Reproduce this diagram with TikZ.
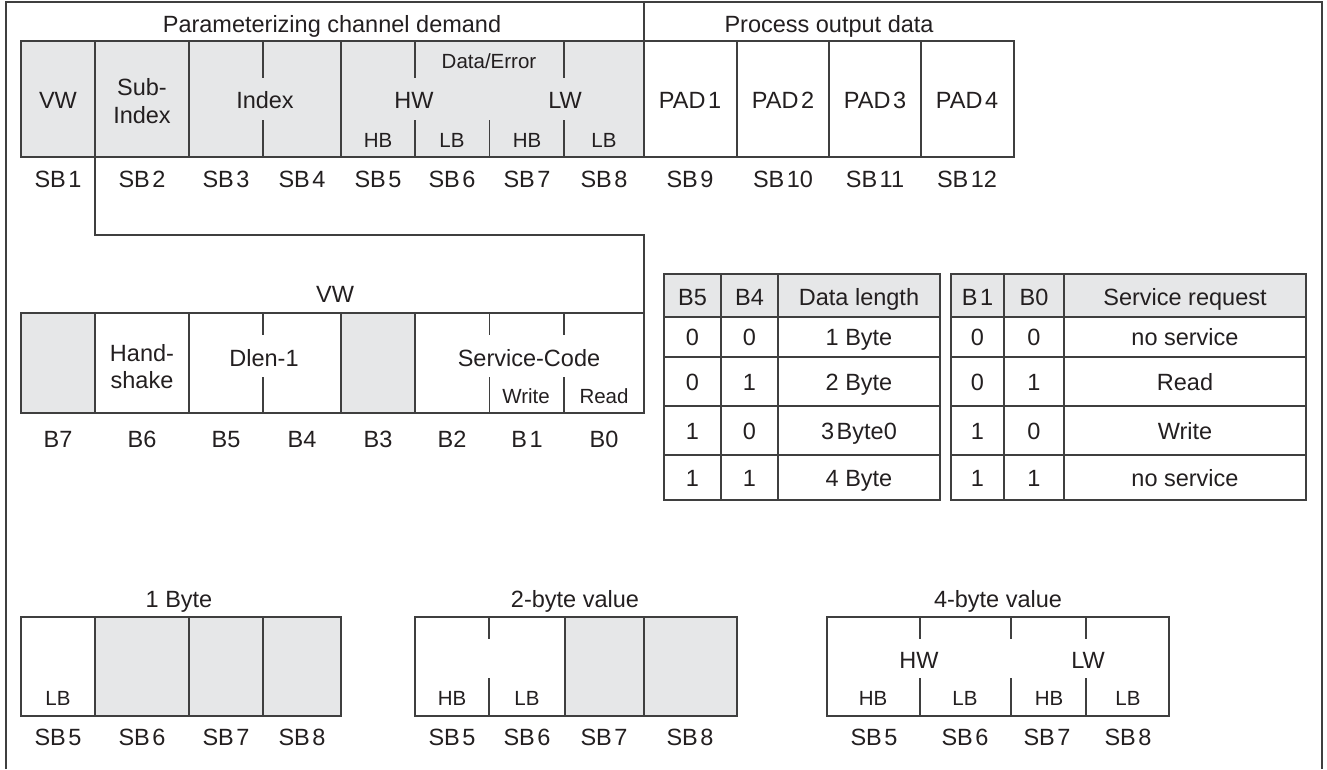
\documentclass[tikz,border=0pt]{standalone}
\usepackage{fontspec}
\setmainfont{Liberation Sans}
\definecolor{ln}{HTML}{3F3F3F}
\definecolor{gf}{HTML}{E6E7E8}
\definecolor{tx}{HTML}{231F20}
\newcommand{\ks}{\kern2.5pt}
\begin{document}
\begin{tikzpicture}[x=1pt,y=-1pt,
  ln/.style={draw=ln,line width=1.5pt},
  frame/.style={draw=ln,line width=1.2pt},
  grey/.style={fill=gf},
  big/.style={font=\fontsize{23.5}{28}\selectfont,text=tx,inner sep=0pt,anchor=base},
  small/.style={font=\fontsize{20.5}{24}\selectfont,text=tx,inner sep=0pt,anchor=base}]
\useasboundingbox (0,0) rectangle (1327,769);
% frame
\draw[frame] (6,769) -- (6,2) -- (1322,2) -- (1322,769);
\draw[frame] (644,2) -- (644,41);
\node[big] (tpar) at (332,32) {Parameterizing channel demand};
\node[big] (tpro) at (829,32) {Process output data};
% ---- top row
\fill[grey] (21,41) rectangle (644,157);
\draw[ln] (21,41) rectangle (644,157);
\foreach \x in {95,189,341} \draw[ln] (\x,41) -- (\x,157);
\foreach \x in {263,415,564} \draw[ln] (\x,41) -- (\x,78);
\foreach \x in {263,415,489.5,564} \draw[ln] (\x,120) -- (\x,157);
\draw[ln] (644,41) rectangle (1014,157);
\foreach \x in {737,829,921} \draw[ln] (\x,41) -- (\x,157);
\node[big] (vw) at (58,108) {VW};
\node[big] (sub1) at (142,95) {Sub-};
\node[big] (sub2) at (142,123) {Index};
\node[big] (idx) at (265,108) {Index};
\node[small] (de) at (489,68) {Data/Error};
\node[big] (hw) at (414,108) {HW};
\node[big] (lw) at (565,108) {LW};
\foreach \x/\t [count=\i] in {378/HB,452/LB,527/HB,604/LB} \node[small] (hl\i) at (\x,147) {\t};
\foreach \x/\t [count=\i] in {690/1,783/2,875/3,967/4} \node[big] (pad\i) at (\x,108) {PAD\ks\t};
\foreach \x [count=\i] in {58,142,226,302,378,452,527,604,690,783,875,967} \node[big] (sb\i) at (\x,187) {SB\ks\i};
% ---- connector
\coordinate (vwout) at (95,157);
\coordinate (vwin) at (644,313);
\draw[ln] (vwout) -- ++(0,78) -| (vwin);
% ---- bit row
\node[big] (vwt) at (335,302) {VW};
\fill[grey] (21,313) rectangle (95,413);
\fill[grey] (341,313) rectangle (415,413);
\draw[ln] (21,313) rectangle (644,413);
\foreach \x in {95,189,341,415} \draw[ln] (\x,313) -- (\x,413);
\foreach \x in {263,489.5,564} {\draw[ln] (\x,313) -- (\x,335); \draw[ln] (\x,377) -- (\x,413);}
\node[big] (hs1) at (142,361) {Hand-};
\node[big] (hs2) at (142,388) {shake};
\node[big] (dlen) at (264,366) {Dlen-1};
\node[big] (sc) at (529,366) {Service-Code};
\node[small] (wr) at (526,403) {Write};
\node[small] (rd) at (604,403) {Read};
\foreach \x/\t [count=\i] in {58/B7,142/B6,226/B5,302/B4,378/B3,452/B2,527/B\ks1,604/B0} \node[big] (b\i) at (\x,447) {\t};
% ---- tables
\fill[grey] (664,274) rectangle (940,317);
\fill[grey] (951,274) rectangle (1306,317);
\draw[ln] (664,274) rectangle (940,500);
\draw[ln] (951,274) rectangle (1306,500);
\foreach \x in {721,778} \draw[ln] (\x,274) -- (\x,500);
\foreach \x in {1004,1064} \draw[ln] (\x,274) -- (\x,500);
\foreach \y in {317,357,406,455} {\draw[ln] (664,\y) -- (940,\y); \draw[ln] (951,\y) -- (1306,\y);}
\foreach \y/\a/\b/\c/\d/\e/\f [count=\i] in {
  305/B5/B4/Data length/B\ks1/B0/Service request,
  345/0/0/1 Byte/0/0/no service,
  390/0/1/2 Byte/0/1/Read,
  439/1/0/3\ks Byte0/1/0/Write,
  486/1/1/4 Byte/1/1/no service} {
  \node[big] (la\i) at (692.5,\y) {\a};
  \node[big] (lb\i) at (749.5,\y) {\b};
  \node[big] (lc\i) at (859,\y) {\c};
  \node[big] (ra\i) at (977.5,\y) {\d};
  \node[big] (rb\i) at (1034,\y) {\e};
  \node[big] (rc\i) at (1185,\y) {\f};
}
% ---- 1 byte
\node[big] (t1) at (179,607) {1 Byte};
\fill[grey] (95,617) rectangle (341,716);
\draw[ln] (21,617) rectangle (341,716);
\foreach \x in {95,189,263} \draw[ln] (\x,617) -- (\x,716);
\node[small] (lb1) at (58,705) {LB};
\foreach \x/\t in {58/5,142/6,226/7,302/8} \node[big] (o\t) at (\x,745) {SB\ks\t};
% ---- 2 byte
\node[big] (t2) at (575,607) {2-byte value};
\fill[grey] (565,617) rectangle (737,716);
\draw[ln] (415,617) rectangle (737,716);
\foreach \x in {565,644} \draw[ln] (\x,617) -- (\x,716);
\draw[ln] (489,617) -- (489,639); \draw[ln] (489,678) -- (489,716);
\node[small] (hb2) at (452,705) {HB};
\node[small] (lb2) at (527,705) {LB};
\foreach \x/\t in {452/5,527/6,604/7,690/8} \node[big] (w\t) at (\x,745) {SB\ks\t};
% ---- 4 byte
\node[big] (t4) at (998,607) {4-byte value};
\draw[ln] (827,617) rectangle (1169,716);
\foreach \x in {920,1011,1086} {\draw[ln] (\x,617) -- (\x,639); \draw[ln] (\x,678) -- (\x,716);}
\node[big] (hw4) at (919,668) {HW};
\node[big] (lw4) at (1088,668) {LW};
\foreach \x/\t [count=\i] in {873/HB,965/LB,1049/HB,1128/LB} \node[small] (q\i) at (\x,705) {\t};
\foreach \x/\t in {874/5,965/6,1047/7,1128/8} \node[big] (d\t) at (\x,745) {SB\ks\t};
\end{tikzpicture}
\end{document}
